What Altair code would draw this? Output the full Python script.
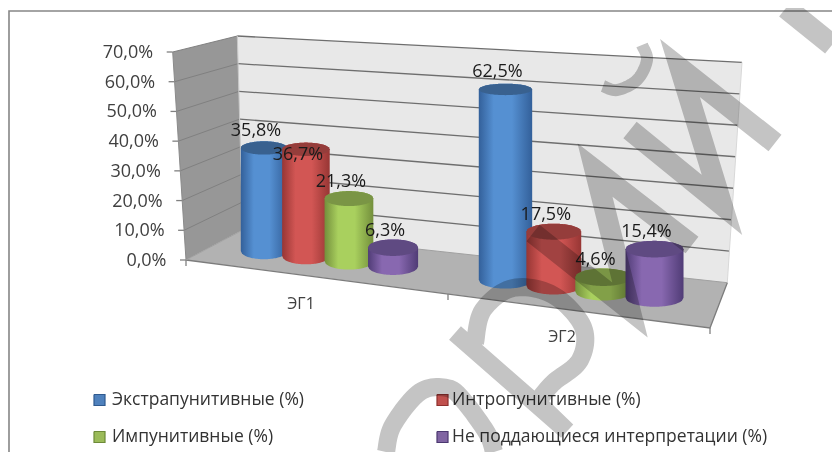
import math
import altair as alt
import pandas as pd

# ---- chart values ----
GROUPS = ["ЭГ1", "ЭГ2"]
SERIES = ["Экстрапунитивные (%)", "Интропунитивные (%)", "Импунитивные (%)", "Не поддающиеся интерпретации (%)"]
VALUES = {
    "Экстрапунитивные (%)": [35.8, 62.5],
    "Интропунитивные (%)": [36.7, 17.5],
    "Импунитивные (%)": [21.3, 4.6],
    "Не поддающиеся интерпретации (%)": [6.3, 15.4],
}
Y_TICKS = [0, 10, 20, 30, 40, 50, 60, 70]

# ---- styles ----
FONT = "Open Sans"
STYLES = [
    dict(edge="#33609a", mid="#5590d2", top="#39618f", sw="#4f81bd", swe="#2f5a8f"),
    dict(edge="#973634", mid="#d25654", top="#953d3b", sw="#c0504d", swe="#8f302e"),
    dict(edge="#738f3c", mid="#a9d05e", top="#7a9545", sw="#9bbb59", swe="#6d8a38"),
    dict(edge="#503c76", mid="#8868b0", top="#5f4a82", sw="#8064a2", swe="#4b3870"),
]

# ---- 3-D frame of the chart, as seen on the page ----
BL, BR, FL, FR = (242.7, 230), (727.3, 282.7), (186, 260), (710, 328)
BTL, BTR, FTL = (237.3, 36), (742, 62.3), (172.7, 52)


def lerp(a, b, t):
    return a + (b - a) * t


def persp(u):
    return u / (1 + 0.155 * (1 - u))


def floor_pt(s, d):
    bx, by = lerp(BL[0], BR[0], s), lerp(BL[1], BR[1], s)
    fx, fy = lerp(FL[0], FR[0], s), lerp(FL[1], FR[1], s)
    return lerp(bx, fx, d), lerp(by, fy, d)


def ry_at(y):
    return 4.3 + 0.016 * y


X = alt.X("x:Q", axis=None, scale=alt.Scale(domain=[8, 832], range=[0, 824], nice=False, zero=False))
Y = alt.Y("y:Q", axis=None, scale=alt.Scale(domain=[8, 452], range=[0, 444], nice=False, zero=False))
Y2 = alt.Y2("y2:Q")
layers = []


def poly(vertices, color):
    xs = sorted(v[0] for v in vertices)
    rows = []
    n = len(vertices)
    for x in xs:
        hits = []
        for i in range(n):
            a, b = vertices[i], vertices[(i + 1) % n]
            lo, hi = min(a[0], b[0]), max(a[0], b[0])
            if lo <= x <= hi and hi > lo:
                hits.append(a[1] + (b[1] - a[1]) * (x - a[0]) / (b[0] - a[0]))
        rows.append(dict(x=x, y=min(hits), y2=max(hits)))
    layers.append(alt.Chart(pd.DataFrame(rows)).mark_area(color=color, opacity=1, interpolate="linear").encode(x=X, y=Y, y2=Y2))


def path(points, color, width, **kw):
    rows = [dict(x=p[0], y=p[1], i=i) for i, p in enumerate(points)]
    layers.append(alt.Chart(pd.DataFrame(rows)).mark_line(color=color, strokeWidth=width, **kw).encode(x=X, y=Y, order="i:Q"))


def texts(rows, size, color, align):
    layers.append(alt.Chart(pd.DataFrame(rows)).mark_text(font=FONT, fontSize=size, color=color, align=align, baseline="middle").encode(x=X, y=Y, text="t:N"))


# frame
path([(9, 452), (9, 11), (832, 11)], "#868686", 1.6)

# walls and floor
poly([BTL, BTR, BR, BL], "#e8e8e8")
poly([FTL, BTL, BL, FL], "#979797")
poly([BL, BR, FR, FL], "#b2b2b2")


def axis_pt(v):
    return lerp(FL[0], FTL[0], v / 70), lerp(FL[1], FTL[1], v / 70)


def back_l(v):
    return lerp(BL[0], BTL[0], v / 70), lerp(BL[1], BTL[1], v / 70)


def back_r(v):
    return lerp(BR[0], BTR[0], v / 70), lerp(BR[1], BTR[1], v / 70)


for v in Y_TICKS:
    if v > 0:
        path([back_l(v), back_r(v)], "#6e6e6e", 1.3)
        path([axis_pt(v), back_l(v)], "#808080", 1)
    ax, ay = axis_pt(v)
    path([(ax - 6, ay), (ax, ay)], "#808080", 1.3)
path([BTL, BL], "#c8c8c8", 1)
path([BTR, BR], "#d8d8d8", 1)
path([FTL, FL], "#8a8a8a", 1)
path([FL, FR, BR], "#7c7c7c", 1.3)
path([FL, BL, BR], "#a0a0a0", 1)
for s in [0, 0.5, 1]:
    fx, fy = floor_pt(s, 1)
    path([(fx, fy), (fx, fy + 6)], "#808080", 1.3)

texts([dict(x=axis_pt(v)[0] - 19.5, y=axis_pt(v)[1] + 1, t=f"{v},0%") for v in Y_TICKS], 18, "#404040", "right")

# cylinders
DEPTH = 0.5
SLOT = 0.092
label_rows = []
for g, centre in enumerate([0.25, 0.75]):
    for k, name in enumerate(SERIES):
        val = VALUES[name][g]
        st = STYLES[k]
        u = centre + (k - 1.5) * SLOT
        s = persp(u)
        cx, base = floor_pt(s, DEPTH)
        hw = (floor_pt(persp(u + 0.56 * SLOT), DEPTH)[0] - floor_pt(persp(u - 0.56 * SLOT), DEPTH)[0]) / 2
        scale = lerp(2.8, 3.15, s) * 1.015
        top = base - scale * val
        rt, rb = ry_at(top), ry_at(base)
        body, cap = [], []
        for i in range(41):
            t = -1 + 2 * i / 40
            w = math.sqrt(max(0, 1 - t * t))
            body.append(dict(x=cx + hw * t, y=top - rt * w, y2=base + rb * w))
            cap.append(dict(x=cx + hw * t, y=top - rt * w, y2=top + rt * w))
        grad = alt.Gradient(gradient="linear", x1=0, x2=1, y1=0, y2=0, stops=[
            alt.GradientStop(color=st["edge"], offset=0),
            alt.GradientStop(color=st["mid"], offset=0.28),
            alt.GradientStop(color=st["mid"], offset=0.62),
            alt.GradientStop(color=st["edge"], offset=1),
        ])
        layers.append(alt.Chart(pd.DataFrame(body)).mark_area(color=grad, opacity=1).encode(x=X, y=Y, y2=Y2))
        layers.append(alt.Chart(pd.DataFrame(cap)).mark_area(color=st["top"], opacity=1).encode(x=X, y=Y, y2=Y2))
        label_rows.append(dict(x=cx - 8, y=top + (6 if (g, k) == (0, 1) else -17), t=f"{val:.1f}%".replace(".", ",")))

texts(label_rows, 18, "#1a1a1a", "center")

# category labels
texts([dict(x=301, y=304, t=GROUPS[0]), dict(x=562, y=337, t=GROUPS[1])], 16, "#404040", "center")

# legend
LEG_X = [(94, 112), (437, 452)]
LEG_Y = [400, 437]
for k, name in enumerate(SERIES):
    col, row = k % 2, k // 2
    sx, tx = LEG_X[col]
    yc = LEG_Y[row]
    poly([(sx, yc - 5.5), (sx + 11, yc - 5.5), (sx + 11, yc + 5.5), (sx, yc + 5.5)], STYLES[k]["sw"])
    path([(sx, yc - 5.5), (sx + 11, yc - 5.5), (sx + 11, yc + 5.5), (sx, yc + 5.5), (sx, yc - 5.5)], STYLES[k]["swe"], 1.2)
    texts([dict(x=tx, y=yc, t=name)], 17.5, "#333333", "left")


# watermark
def spline(pts, n=12):
    out = []
    P = [pts[0]] + list(pts) + [pts[-1]]
    for i in range(1, len(P) - 2):
        p0, p1, p2, p3 = P[i - 1], P[i], P[i + 1], P[i + 2]
        for j in range(n):
            t = j / n
            out.append(tuple(
                0.5 * (2 * p1[c] + (p2[c] - p0[c]) * t + (2 * p0[c] - 5 * p1[c] + 4 * p2[c] - p3[c]) * t * t
                       + (3 * p1[c] - p0[c] - 3 * p2[c] + p3[c]) * t ** 3) for c in (0, 1)))
    out.append(pts[-1])
    return out


WM = "#c4c4c4"
wm = dict(blend="multiply", strokeJoin="miter", strokeMiterLimit=6)
path([(786, 8), (832, 45)], WM, 22, **wm)
path(spline([(642, 45), (647, 60), (637, 80), (617, 90), (603, 86)]), WM, 12, **wm)
path([(775, 143), (680, 68), (722, 205), (630, 130)], WM, 21, **wm)
path([(692, 245), (595, 170), (630, 310), (533, 233)], WM, 21, **wm)
bowl = [(475, 343), (483, 310), (513, 288), (553, 295), (583, 327), (580, 360), (553, 383), (537, 402)]
path([(455, 333), (567, 431), (537, 402)] + spline(bowl[::-1])[1:], WM, 18, **wm)
path(spline([(386, 452), (393, 425), (420, 392), (447, 388), (463, 400), (487, 433), (494, 452)]), WM, 18, **wm)

chart = alt.layer(*layers).properties(
    width=824, height=444, padding=0,
    autosize=alt.AutoSizeParams(type="none"),
    background="white",
).configure_view(stroke=None)

chart.save("out.html", embed_options={"renderer": "svg", "actions": False})
